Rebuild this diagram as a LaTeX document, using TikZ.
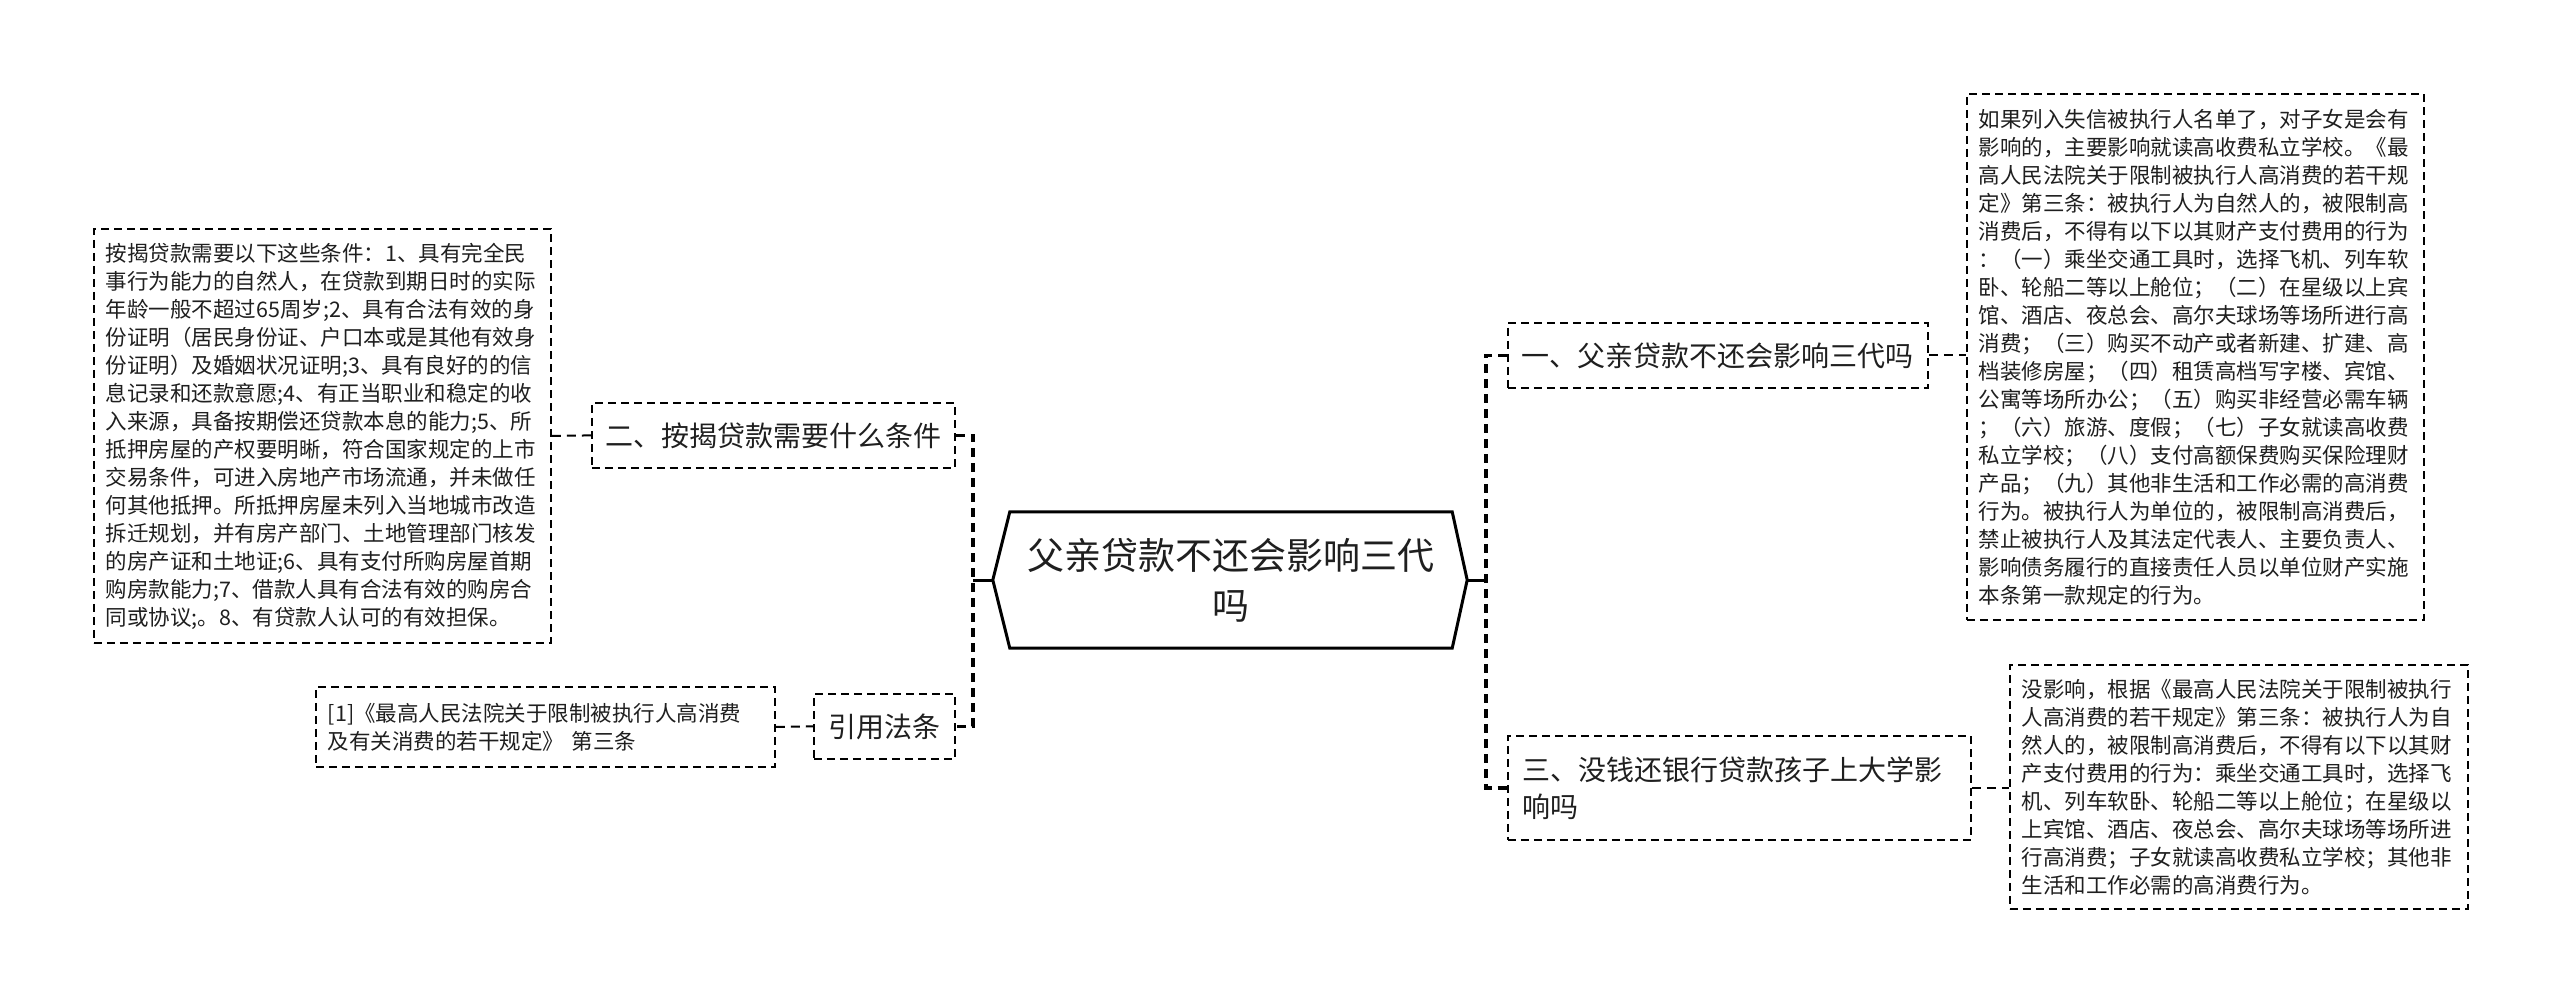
\documentclass[tikz,border=0pt]{standalone}
\usepackage{fontspec}
\setmainfont{Noto Sans CJK SC}
\usetikzlibrary{calc}
\newcommand\dtlfont{\fontsize{21.5pt}{28pt}\selectfont}
\newcommand\tpcfont{\fontsize{28pt}{37pt}\selectfont}
\newcommand\hexfont{\fontsize{37pt}{50pt}\selectfont}
\begin{document}
\begin{tikzpicture}[x=1pt,y=-1pt,
 box/.style={draw=black, line width=1.8pt, dash pattern=on 8pt off 5pt, anchor=north west, inner sep=0pt, text=black!88},
 detail/.style={box, font=\dtlfont, align=left},
 topic/.style={box, font=\tpcfont},
 spine/.style={line width=3.4pt, dash pattern=on 9pt off 6pt, black},
 link/.style={line width=2pt, dash pattern=on 9pt off 6pt, black},
 hexline/.style={line width=3pt, black, line join=miter}]
\useasboundingbox[fill=white] (0,0) rectangle (2560,1003);

% central node
\node[font=\hexfont, align=center, minimum width=442pt, minimum height=136pt, inner sep=0pt, text=black!88] (hex) at (1231,580) {父亲贷款不还会影响三代\\吗};
\coordinate (hexL) at ($(hex.west)+(-17,0)$);
\coordinate (hexR) at ($(hex.east)+(15,0)$);
\draw[hexline] (hex.north west) -- (hex.north east) -- (hexR) -- (hex.south east) -- (hex.south west) -- (hexL) -- cycle;

\coordinate (LS) at (973,580);
\coordinate (RS) at (1486,580);

% left topics
\node[topic, minimum width=363pt, minimum height=65pt] (b2) at (591,402) {二、按揭贷款需要什么条件};
\node[topic, minimum width=141pt, minimum height=65pt] (yy) at (813,693) {引用法条};

% left details
\node[detail, minimum width=457pt, minimum height=414pt, text width=433pt] (lb) at (93,228) {按揭贷款需要以下这些条件：1、具有完全民\\事行为能力的自然人，在贷款到期日时的实际\\年龄一般不超过65周岁;2、具有合法有效的身\\份证明（居民身份证、户口本或是其他有效身\\份证明）及婚姻状况证明;3、具有良好的的信\\息记录和还款意愿;4、有正当职业和稳定的收\\入来源，具备按期偿还贷款本息的能力;5、所\\抵押房屋的产权要明晰，符合国家规定的上市\\交易条件，可进入房地产市场流通，并未做任\\何其他抵押。所抵押房屋未列入当地城市改造\\拆迁规划，并有房产部门、土地管理部门核发\\的房产证和土地证;6、具有支付所购房屋首期\\购房款能力;7、借款人具有合法有效的购房合\\同或协议;。8、有贷款人认可的有效担保。};
\node[detail, minimum width=459pt, minimum height=80pt, text width=435pt] (ref1) at (315,686) {[1]《最高人民法院关于限制被执行人高消费\\及有关消费的若干规定》 第三条};

% right topics
\node[topic, minimum width=420pt, minimum height=65pt] (b1) at (1507,322) {一、父亲贷款不还会影响三代吗};
\node[topic, align=left, minimum width=463pt, minimum height=104pt, text width=433pt] (b3) at (1507,735) {三、没钱还银行贷款孩子上大学影\\响吗};

% right details
\node[detail, minimum width=457pt, minimum height=526pt, text width=433pt] (rb1) at (1966,93) {如果列入失信被执行人名单了，对子女是会有\\影响的，主要影响就读高收费私立学校。《最\\高人民法院关于限制被执行人高消费的若干规\\定》第三条：被执行人为自然人的，被限制高\\消费后，不得有以下以其财产支付费用的行为\\：（一）乘坐交通工具时，选择飞机、列车软\\卧、轮船二等以上舱位；（二）在星级以上宾\\馆、酒店、夜总会、高尔夫球场等场所进行高\\消费；（三）购买不动产或者新建、扩建、高\\档装修房屋；（四）租赁高档写字楼、宾馆、\\公寓等场所办公；（五）购买非经营必需车辆\\；（六）旅游、度假；（七）子女就读高收费\\私立学校；（八）支付高额保费购买保险理财\\产品；（九）其他非生活和工作必需的高消费\\行为。被执行人为单位的，被限制高消费后，\\禁止被执行人及其法定代表人、主要负责人、\\影响债务履行的直接责任人员以单位财产实施\\本条第一款规定的行为。};
\node[detail, minimum width=458pt, minimum height=244pt, text width=434pt] (rb2) at (2009,664) {没影响，根据《最高人民法院关于限制被执行\\人高消费的若干规定》第三条：被执行人为自\\然人的，被限制高消费后，不得有以下以其财\\产支付费用的行为：乘坐交通工具时，选择飞\\机、列车软卧、轮船二等以上舱位；在星级以\\上宾馆、酒店、夜总会、高尔夫球场等场所进\\行高消费；子女就读高收费私立学校；其他非\\生活和工作必需的高消费行为。};

% connectors
\draw[hexline] (hexL) -- (LS);
\draw[hexline] (hexR) -- (RS);
\draw[spine] (b2.east) -| (LS) |- (yy.east);
\draw[spine] (b1.west) -| (RS) |- (b3.west);
\draw[link] (lb.east) -- (b2.west);
\draw[link] (ref1.east) -- (yy.west);
\draw[link] (b1.east) -- (b1.east -| rb1.west);
\draw[link] (b3.east) -- (b3.east -| rb2.west);
\end{tikzpicture}
\end{document}
